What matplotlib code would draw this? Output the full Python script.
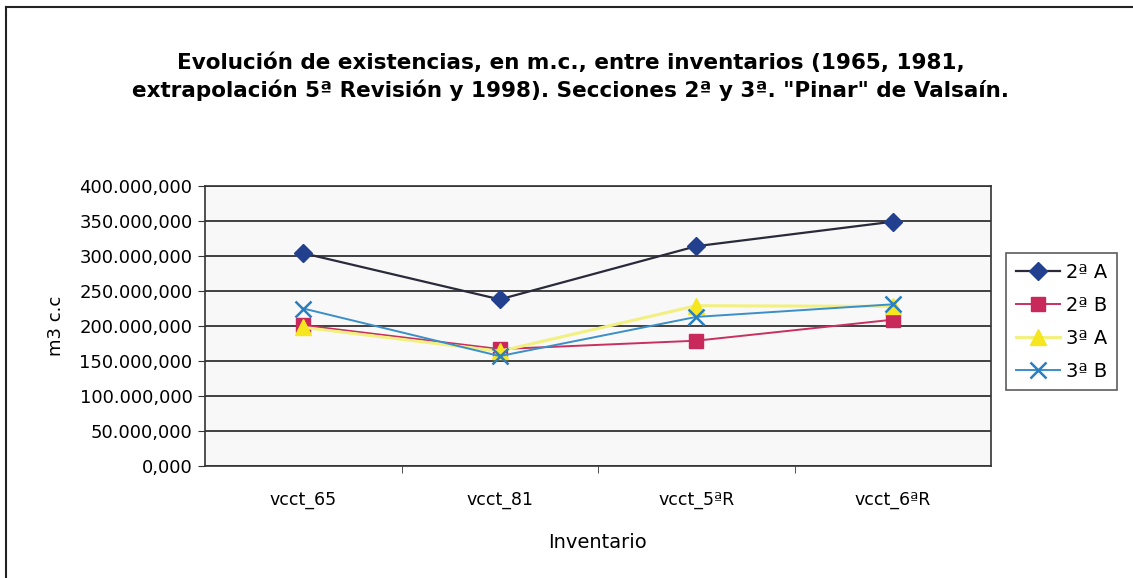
import matplotlib
matplotlib.use("Agg")
import matplotlib.pyplot as plt
from matplotlib.lines import Line2D

categories = ["vcct_65", "vcct_81", "vcct_5ªR", "vcct_6ªR"]
series_names = ["2ª A", "2ª B", "3ª A", "3ª B"]
s2A = [304e6, 238e6, 314e6, 349e6]
s2B = [201e6, 167e6, 179e6, 209e6]
s3A = [198e6, 164e6, 229e6, 228e6]
s3B = [225e6, 157e6, 213e6, 231e6]
yticks = [0, 50e6, 100e6, 150e6, 200e6, 250e6, 300e6, 350e6, 400e6]
ytick_labels = ["0,000", "50.000,000", "100.000,000", "150.000,000", "200.000,000",
                "250.000,000", "300.000,000", "350.000,000", "400.000,000"]

title = ("Evolución de existencias, en m.c., entre inventarios (1965, 1981,\n"
         "extrapolación 5ª Revisión y 1998). Secciones 2ª y 3ª. \"Pinar\" de Valsaín.")

plt.rcParams['font.family'] = ['DejaVu Sans']

W, H = 1133, 578
fig = plt.figure(figsize=(W / 100, H / 100), dpi=100)
fig.patch.set_facecolor("white")

ax = fig.add_axes([205 / W, (H - 466) / H, (991 - 205) / W, (466 - 186) / H])
ax.set_facecolor("#f8f8f8")

x = list(range(len(categories)))
styles = [
    (s2A, dict(color="#2a2a3a", marker="D", markerfacecolor="#23408e", markeredgecolor="#23408e", markersize=9, lw=1.6)),
    (s2B, dict(color="#c83060", marker="s", markerfacecolor="#c8285a", markeredgecolor="#c8285a", markersize=10, lw=1.4)),
    (s3A, dict(color="#f2f080", marker="^", markerfacecolor="#f5e620", markeredgecolor="#f5e620", markersize=11, lw=2.2)),
    (s3B, dict(color="#3a8fc8", marker="x", markeredgecolor="#2a7fc0", markersize=11, markeredgewidth=1.8, lw=1.4)),
]
for (vals, st), name in zip(styles, series_names):
    ax.plot(x, vals, label=name, zorder=3, **st)

ax.set_xlim(-0.5, len(categories) - 0.5)
ax.set_ylim(0, 400e6)
ax.set_yticks(yticks)
ax.set_yticklabels(ytick_labels, fontsize=13)
ax.set_xticks(x)
ax.set_xticklabels(categories, fontsize=12.5)
ax.tick_params(axis="x", length=0, pad=18)
ax.set_xticks([0.5, 1.5, 2.5], minor=True)
ax.tick_params(axis="x", which="minor", length=5, direction="out", color="#333333")
ax.tick_params(axis="y", length=5, direction="out", color="#333333", pad=4)
ax.grid(axis="y", color="#222222", lw=1.2, zorder=1)
for sp in ax.spines.values():
    sp.set_color("#333333")
    sp.set_linewidth(1.2)

ax.set_ylabel("m3 c.c", fontsize=13, labelpad=10)
ax.set_xlabel("Inventario", fontsize=14, labelpad=17)

fig.text(571 / W, 1 - 77 / H, title, ha="center", va="center", fontsize=15.5,
         fontweight="bold", linespacing=1.4)

leg = fig.legend(loc="upper left", bbox_to_anchor=(1006 / W, 1 - 253 / H), fontsize=14,
                 frameon=True, fancybox=False, edgecolor="#333333", handlelength=2.3,
                 labelspacing=0.72, borderpad=0.5, handletextpad=0.3, borderaxespad=0)
leg.get_frame().set_linewidth(1.2)

# outer chart frame (top and left visible)
fig.add_artist(Line2D([6 / W, 1], [1 - 7 / H, 1 - 7 / H], transform=fig.transFigure, color="#222222", lw=1.5))
fig.add_artist(Line2D([6 / W, 6 / W], [0, 1 - 7 / H], transform=fig.transFigure, color="#222222", lw=1.5))

fig.savefig("out.png", dpi=100)
